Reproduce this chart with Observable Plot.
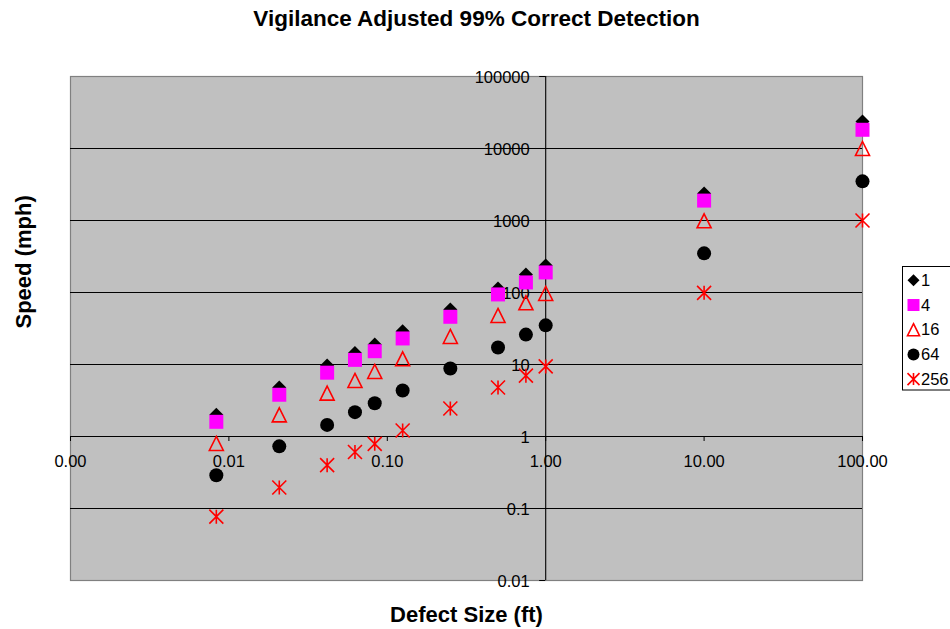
<!DOCTYPE html>
<html><head><meta charset="utf-8">
<script src="https://cdn.jsdelivr.net/npm/d3@7"></script>
<script src="https://cdn.jsdelivr.net/npm/@observablehq/plot@0.6"></script>
<style>
html,body{margin:0;padding:0;background:#fff;overflow:hidden;}
#chart{position:relative;width:950px;height:629px;overflow:hidden;}
</style></head><body><div id="chart"></div>
<script>
const chartTitle = "Vigilance Adjusted 99% Correct Detection";
const xTitle = "Defect Size (ft)";
const yTitle = "Speed (mph)";
const seriesNames = ["1", "4", "16", "64", "256"];
const defectSize = [0.00833, 0.0208, 0.0417, 0.0625, 0.0833, 0.125, 0.25, 0.5, 0.75, 1, 10, 100];
const speed1   = [2.0, 4.8, 9.7, 14.4, 19, 29, 58, 114, 178, 237, 2370, 23700];
const speed4   = [1.6, 3.8, 7.7, 11.6, 15.3, 23, 46, 94, 138, 190, 1890, 18200];
const speed16  = [0.8, 2.0, 4.0, 6.0, 8.0, 12, 24.5, 48, 72, 97, 990, 10000];
const speed64  = [0.29, 0.73, 1.45, 2.18, 2.9, 4.35, 8.8, 17.2, 26, 35, 350, 3500];
const speed256 = [0.077, 0.196, 0.40, 0.61, 0.79, 1.21, 2.45, 4.8, 7.0, 9.4, 99, 1000];
const xTickValues = [0.001, 0.01, 0.1, 1, 10, 100];
const xTickLabels = ["0.00", "0.01", "0.10", "1.00", "10.00", "100.00"];
const yTickValues = [0.01, 0.1, 1, 10, 100, 1000, 10000, 100000];
const yTickLabels = ["0.01", "0.1", "1", "10", "100", "1000", "10000", "100000"];

const allSpeeds = [speed1, speed4, speed16, speed64, speed256];
const rows = [];
seriesNames.forEach((s, si) => defectSize.forEach((x, i) => rows.push({series: s, x, y: allSpeeds[si][i]})));

const rOf = size => Math.sqrt(size / Math.PI);
const symDiamond = {draw(c, size) {const r = rOf(size); c.moveTo(0, -r); c.lineTo(r, 0); c.lineTo(0, r); c.lineTo(-r, 0); c.closePath();}};
const symSquare = {draw(c, size) {const r = rOf(size); c.rect(-r, -r, 2 * r, 2 * r);}};
const symTriangle = {draw(c, size) {const r = rOf(size); c.moveTo(0, -r); c.lineTo(r, r); c.lineTo(-r, r); c.closePath();}};
const symCircle = {draw(c, size) {const r = rOf(size); c.moveTo(r, 0); c.arc(0, 0, r, 0, 2 * Math.PI);}};
const symStar = {draw(c, size) {const r = rOf(size); c.moveTo(-r, -r); c.lineTo(r, r); c.moveTo(-r, r); c.lineTo(r, -r); c.moveTo(0, -r); c.lineTo(0, r);}};

const styles = [
  {symbol: symDiamond, fill: "#000000", stroke: "none", strokeWidth: 0},
  {symbol: symSquare, fill: "#ff00ff", stroke: "none", strokeWidth: 0},
  {symbol: symTriangle, fill: "none", stroke: "#ff0000", strokeWidth: 1.6},
  {symbol: symCircle, fill: "#000000", stroke: "none", strokeWidth: 0},
  {symbol: symStar, fill: "none", stroke: "#ff0000", strokeWidth: 1.6}
];

const font = "'Liberation Sans', Arial, sans-serif";
const dotMarks = seriesNames.map((s, si) => Plot.dot(rows.filter(d => d.series === s), {
  x: "x", y: "y", r: 7,
  symbol: styles[si].symbol, fill: styles[si].fill, stroke: styles[si].stroke, strokeWidth: styles[si].strokeWidth
}));

const plot = Plot.plot({
  width: 950, height: 629,
  marginLeft: 70, marginRight: 88, marginTop: 76, marginBottom: 49,
  x: {type: "log", domain: [0.001, 100], axis: null},
  y: {type: "log", domain: [0.01, 100000], axis: null},
  style: {fontFamily: font, background: "white", color: "black"},
  marks: [
    Plot.frame({fill: "#c0c0c0", stroke: "#808080", strokeWidth: 1.2}),
    Plot.ruleY(yTickValues.filter(v => v !== 1 && v !== 0.01 && v !== 100000), {stroke: "#000", strokeWidth: 1.1}),
    Plot.ruleY([1], {stroke: "#000", strokeWidth: 1.1}),
    Plot.ruleX([1], {stroke: "#000", strokeWidth: 1.1}),
    Plot.ruleX(xTickValues, {x: d => d, y1: 1, y2: 1, insetTop: 0, insetBottom: -5, stroke: "#000"}),
    Plot.ruleY(yTickValues, {y: d => d, x1: 1, x2: 1, insetLeft: -6, insetRight: 0, stroke: "#000"}),
    Plot.text(xTickValues, {x: d => d, y: 1, text: (d, i) => xTickLabels[i], dy: 25, fontSize: 16.5, fill: "#000"}),
    Plot.text(yTickValues, {x: 1, y: d => d, text: (d, i) => yTickLabels[i], textAnchor: "end", dx: -16, dy: 1, fontSize: 16.5, fill: "#000"}),
    ...dotMarks,
    Plot.text([chartTitle], {text: d => d, frameAnchor: "top", lineAnchor: "middle", dx: 10, dy: -58, fontSize: 22.5, fontWeight: "bold", fill: "#000"}),
    Plot.text([xTitle], {text: d => d, frameAnchor: "bottom", lineAnchor: "middle", dy: 34, fontSize: 22, fontWeight: "bold", fill: "#000"}),
    Plot.text([yTitle], {text: d => d, frameAnchor: "left", lineAnchor: "middle", rotate: -90, dx: -47, fontSize: 22, fontWeight: "bold", fill: "#000"})
  ]
});

// Legend
const svg = d3.select(plot);
const lg = svg.append("g").attr("font-family", font).attr("font-size", "16.5px").attr("text-anchor", "start");
lg.append("rect").attr("x", 902.5).attr("y", 266.5).attr("width", 100).attr("height", 123.5)
  .attr("fill", "white").attr("stroke", "black").attr("stroke-width", 1);
seriesNames.forEach((name, i) => {
  const cy = 280.3 + i * 24.7;
  lg.append("path").attr("d", d3.symbol(styles[i].symbol, Math.PI * 36)())
    .attr("transform", `translate(913.5,${cy})`)
    .attr("fill", styles[i].fill).attr("stroke", styles[i].stroke).attr("stroke-width", styles[i].strokeWidth);
  lg.append("text").attr("x", 921).attr("y", cy).attr("dy", "0.35em").attr("text-anchor", "start").attr("fill", "#000").text(name);
});

document.getElementById("chart").appendChild(plot);
</script>
</body></html>
